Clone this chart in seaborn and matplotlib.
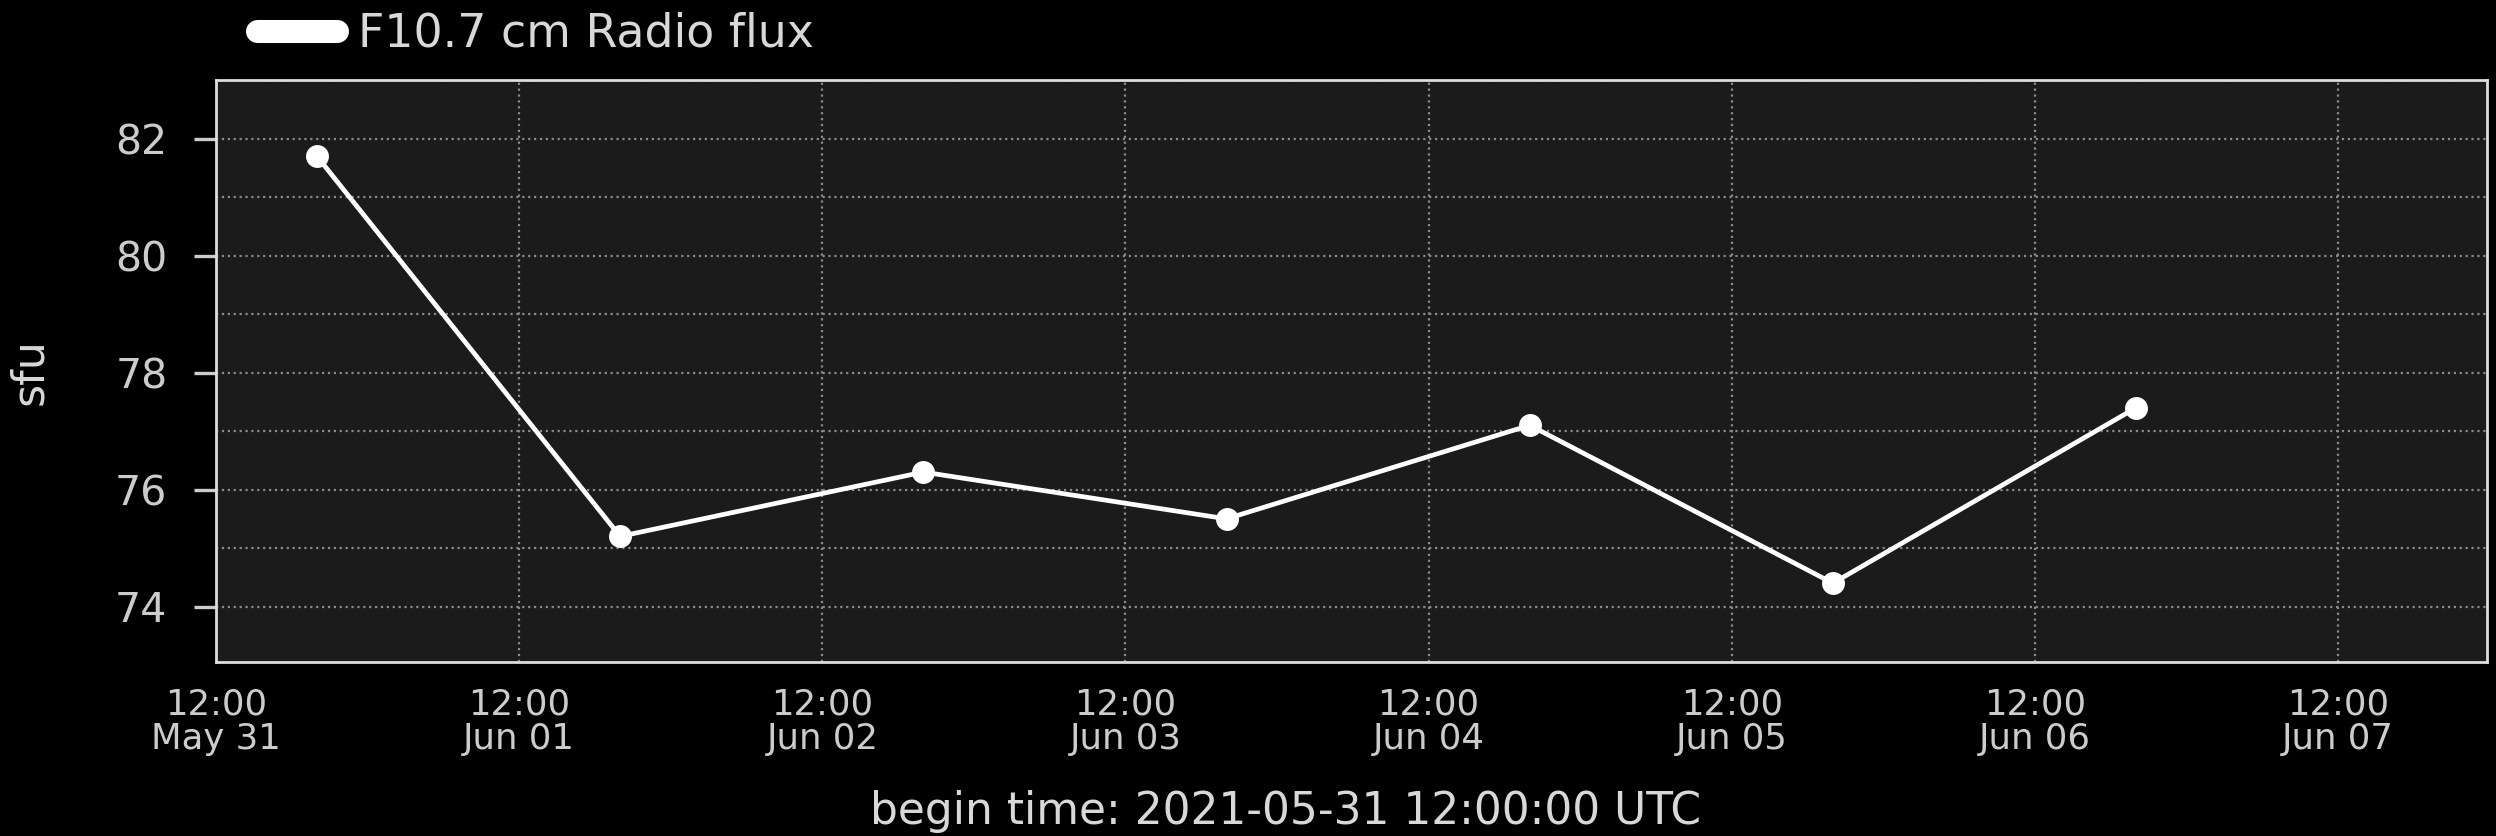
import pandas as pd
import numpy as np
import seaborn as sns
import matplotlib.pyplot as plt
import matplotlib.dates as mdates
from matplotlib.ticker import MultipleLocator

times = ['2021-05-31 20:00', '2021-06-01 20:00', '2021-06-02 20:00', '2021-06-03 20:00',
         '2021-06-04 20:00', '2021-06-05 20:00', '2021-06-06 20:00']
flux = [81.7, 75.2, 76.3, 75.5, 77.1, 74.4, 77.4]
series_label = 'F10.7 cm Radio flux'
begin_time = '2021-05-31 12:00:00'

df = pd.DataFrame({'time': pd.to_datetime(times), 'flux': flux})

sns.set_theme(style='darkgrid', rc={
    'figure.facecolor': 'black',
    'axes.facecolor': '#1b1b1b',
    'axes.edgecolor': '#dddddd',
    'axes.labelcolor': '#d8d8d8',
    'text.color': '#d8d8d8',
    'xtick.color': '#cccccc',
    'ytick.color': '#cccccc',
    'grid.color': '#8a8a8a',
    'grid.linestyle': ':',
    'grid.linewidth': 0.8,
})
plt.rcParams['font.family'] = ['DejaVu Sans']

fig = plt.figure(figsize=(12.48, 4.18), dpi=200)
ax = fig.add_axes([0.0865, 0.208, 0.91, 0.696])

sns.lineplot(data=df, x='time', y='flux', ax=ax, color='white', linewidth=1.7,
             marker='o', markersize=7.5, markeredgecolor='white', label=series_label)

# limiti degli assi
t0 = pd.Timestamp(begin_time)
ax.set_xlim(t0, t0 + pd.Timedelta(hours=179.8))
ax.set_ylim(73.05, 83.0)

ax.xaxis.set_major_locator(mdates.HourLocator(byhour=[12]))
ax.xaxis.set_major_formatter(mdates.DateFormatter('%H:%M\n%b %d'))
ax.yaxis.set_major_locator(MultipleLocator(2))
ax.yaxis.set_minor_locator(MultipleLocator(1))
ax.grid(True, which='major', axis='both')
ax.grid(True, which='minor', axis='y')

ax.tick_params(axis='y', which='major', left=True, length=8, width=1.2, labelsize=14.8, pad=9.5)
ax.tick_params(axis='y', which='minor', left=False)
ax.tick_params(axis='x', which='major', bottom=False, length=0, labelsize=12.8, pad=9)
for lbl in ax.get_xticklabels():
    lbl.set_linespacing(1.05)

for s in ax.spines.values():
    s.set_visible(True)
    s.set_color('#dddddd')
    s.set_linewidth(1.0)

ax.set_ylabel('sfu', fontsize=16, labelpad=23)
ax.set_xlabel('begin time: ' + begin_time + ' UTC', fontsize=15.8, labelpad=12)
ax.xaxis.label.set_x(0.471)

leg = ax.legend(loc='lower left', bbox_to_anchor=(0.018, 1.04), frameon=False,
                fontsize=16.5, handlelength=1.75, handletextpad=0.45,
                borderaxespad=0, borderpad=0)
for line in leg.get_lines():
    line.set_linewidth(8.3)
    line.set_marker('')
    line.set_solid_capstyle('round')
for t in leg.get_texts():
    t.set_color('#d8d8d8')

fig.savefig('out.png', dpi=200, facecolor='black')
